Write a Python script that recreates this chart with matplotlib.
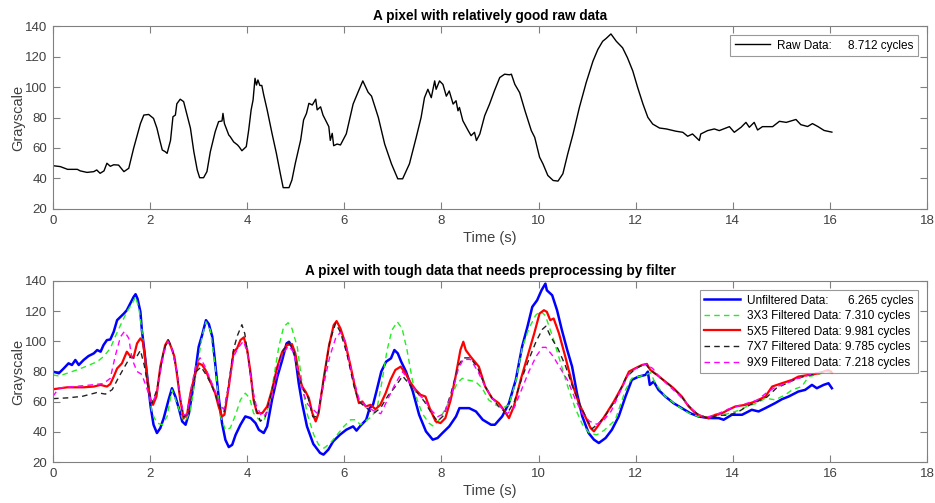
import matplotlib
matplotlib.use("Agg")
import matplotlib.pyplot as plt

plt.rcParams["font.family"] = ["Liberation Sans", "DejaVu Sans"]

# raw pixel trace (top panel)
raw_t = [0, 0.15, 0.3, 0.5, 0.56, 0.7, 0.84, 0.9, 0.97, 1.05, 1.11, 1.18, 1.25, 1.35, 1.46, 1.56,
         1.66, 1.8, 1.87, 1.97, 2.07, 2.14, 2.2, 2.25, 2.31, 2.35, 2.42, 2.47, 2.52, 2.55, 2.62,
         2.69, 2.76, 2.83, 2.9, 2.97, 3.02, 3.1, 3.17, 3.24, 3.34, 3.41, 3.48, 3.5, 3.53, 3.62,
         3.65, 3.72, 3.8, 3.83, 3.89, 3.98, 4.03, 4.08, 4.12, 4.16, 4.19, 4.22, 4.26, 4.3, 4.34,
         4.41, 4.51, 4.6, 4.68, 4.74, 4.86, 4.92, 4.99, 5.1, 5.16, 5.22, 5.27, 5.34, 5.41, 5.44,
         5.51, 5.56, 5.61, 5.68, 5.71, 5.75, 5.78, 5.85, 5.92, 6.04, 6.18, 6.28, 6.38, 6.49, 6.56,
         6.7, 6.83, 6.97, 7.1, 7.2, 7.34, 7.48, 7.58, 7.65, 7.72, 7.79, 7.86, 7.89, 7.96, 8.03,
         8.1, 8.16, 8.24, 8.3, 8.34, 8.37, 8.44, 8.55, 8.61, 8.68, 8.72, 8.79, 8.89, 8.99, 9.09,
         9.2, 9.3, 9.4, 9.44, 9.51, 9.61, 9.72, 9.85, 9.92, 10.02, 10.09, 10.19, 10.3, 10.4,
         10.5, 10.6, 10.71, 10.84, 10.98, 11.12, 11.22, 11.32, 11.39, 11.49, 11.6, 11.73, 11.83,
         11.94, 12.04, 12.15, 12.25, 12.35, 12.49, 12.63, 12.83, 12.97, 13.07, 13.17, 13.31,
         13.34, 13.48, 13.62, 13.72, 13.93, 14.03, 14.17, 14.27, 14.34, 14.44, 14.51, 14.61,
         14.82, 14.96, 15.1, 15.3, 15.4, 15.54, 15.64, 15.75, 15.88, 16.04]
raw_v = [48.4, 47.8, 46, 46, 45, 44, 44.5, 45.6, 43.4, 45, 50, 48, 49, 48.8, 44.5, 46.7,
         59.8, 76, 81.6, 82, 79.4, 73, 65, 58.7, 57.6, 56.5, 65, 80.5, 81.6, 89, 92,
         90.4, 81.6, 73, 57.6, 45.6, 40.5, 40.5, 44.5, 57.6, 70.7, 77.3, 77.7, 82.7, 76, 68.5,
         67.4, 64, 62, 60.9, 58.2, 60.9, 71.8, 85, 91.5, 105.7, 101.3, 104.6, 101, 101, 94.7,
         85, 69.6, 56.5, 43.4, 34, 34, 39, 50, 65.2, 78.4, 82.7, 89.3, 88.2, 92, 85,
         87, 81.6, 78.4, 74, 65, 69.6, 61.5, 62.6, 62, 69.3, 88.8, 96.5, 104, 96.5, 94,
         80, 62.6, 49.6, 39.8, 39.8, 49.6, 67, 80, 93, 98.5, 93, 104, 98.5, 104, 101.7,
         94, 97.4, 88.8, 91, 84.4, 86.6, 77.9, 71.4, 68.1, 70.3, 64.9, 69.2, 81.2, 88.8, 97.5,
         106.2, 108.4, 108, 108.4, 101.8, 96.3, 84.4, 71.4, 67, 54, 49.6, 42, 38.7, 38.3,
         43.1, 56.1, 69.2, 86.6, 102.9, 117, 124.6, 130, 131.8, 134.8, 130, 125.7, 119.2,
         110.5, 99.7, 88.8, 80.1, 75.7, 73.1, 72.5, 71, 70.3, 67.7, 69.2, 64.9,
         69.2, 71.4, 72.5, 71.4, 74, 70.3, 73.6, 76.8, 73.6, 76.8, 71.8, 74,
         74, 77.5, 76.8, 78.7, 75.3, 74.1, 76, 74.1, 71.5, 70.4]

# unfiltered pixel trace (bottom panel)
unf_t = [0, 0.12, 0.22, 0.32, 0.39, 0.46, 0.53, 0.63, 0.73, 0.84, 0.91, 0.98, 1.04, 1.11, 1.18,
         1.25, 1.32, 1.39, 1.46, 1.52, 1.59, 1.66, 1.7, 1.74, 1.8, 1.83, 1.88, 1.94, 2.01, 2.07,
         2.14, 2.21, 2.28, 2.38, 2.45, 2.52, 2.59, 2.66, 2.73, 2.8, 2.9, 3.0, 3.07, 3.15, 3.21,
         3.28, 3.34, 3.41, 3.48, 3.55, 3.62, 3.69, 3.76, 3.86, 3.96, 4.07, 4.17, 4.24, 4.34,
         4.41, 4.51, 4.62, 4.72, 4.81, 4.86, 4.92, 4.99, 5.06, 5.13, 5.23, 5.36, 5.5, 5.57,
         5.67, 5.77, 5.91, 6.04, 6.18, 6.25, 6.32, 6.45, 6.52, 6.59, 6.66, 6.76, 6.86, 6.96,
         7.03, 7.1, 7.17, 7.27, 7.41, 7.54, 7.68, 7.82, 7.92, 8.02, 8.16, 8.3, 8.37, 8.47, 8.57,
         8.71, 8.85, 9.02, 9.1, 9.25, 9.39, 9.53, 9.66, 9.77, 9.87, 9.97, 10.06, 10.14, 10.17,
         10.28, 10.38, 10.48, 10.59, 10.69, 10.79, 10.9, 11.03, 11.14, 11.24, 11.38, 11.51,
         11.65, 11.79, 11.92, 12.06, 12.2, 12.25, 12.29, 12.37, 12.47, 12.61, 12.78, 12.95,
         13.12, 13.29, 13.5, 13.71, 13.81, 13.98, 14.19, 14.39, 14.53, 14.67, 14.87, 15.01,
         15.15, 15.35, 15.49, 15.63, 15.73, 15.87, 15.97, 16.04]
unf_v = [79.9, 78.8, 82, 85.4, 84.3, 87.6, 84.3, 87.6, 90.2, 92, 94.2, 93.1, 97.5, 100.8, 101.2,
         106.3, 114, 116.2, 118.4, 120.6, 125, 129.4, 131.2, 128.3, 119.5, 107.4, 94.2, 76.6, 56.8, 44.7,
         39.2, 42.5, 49.1, 61.2, 68.9, 63.4, 55.7, 46.9, 44.7, 52.4, 72.2, 96.4, 104.1, 114, 111.4,
         103, 85.4, 63.4, 45.8, 34.7, 29.9, 31.4, 38, 44.7, 50.2, 49.1, 45.8, 41.3, 39.2,
         43.6, 61.2, 76.6, 87.6, 98.6, 99.7, 96.4, 89.8, 72.2, 59, 43.6, 32, 26, 24.9,
         28.2, 33.7, 38.1, 41.4, 43.6, 40.8, 43.6, 48, 55.7, 57.9, 66.7, 79.9, 86.5, 88.7,
         94.2, 92, 86.5, 79.9, 66.7, 51.3, 40.3, 34.8, 35.9, 39.2, 43.6, 50.2, 55.7, 55.7, 55.7,
         53.5, 48, 44.7, 44.7, 50.2, 59, 74.4, 96.4, 109.6, 122.8, 127.2, 133.8, 138.2, 133.8,
         130.5, 120.6, 107.4, 94.2, 83.2, 65.6, 50.2, 39.2, 34.8, 32.6, 35.9, 41.4,
         50.2, 63.4, 74.4, 76.6, 77.7, 79.9, 71.1, 73.3, 67.8, 63.4, 59, 55.7,
         52.4, 50.2, 49.1, 49.1, 48, 51.3, 51.3, 54.6, 53.5, 55.7, 59, 61.6,
         63.4, 66.7, 67.8, 71.1, 68.9, 71.1, 72.2, 68.9]

# 3x3 filtered
f3_t = [0, 0.12, 0.29, 0.49, 0.7, 0.91, 1.04, 1.18, 1.28, 1.39, 1.52, 1.63, 1.7, 1.77, 1.83,
        1.9, 1.97, 2.04, 2.14, 2.25, 2.35, 2.45, 2.55, 2.66, 2.73, 2.83, 2.97, 3.07, 3.15, 3.24,
        3.34, 3.45, 3.55, 3.65, 3.76, 3.86, 3.96, 4.05, 4.13, 4.24, 4.34, 4.44, 4.55, 4.65, 4.75,
        4.84, 4.92, 5.03, 5.13, 5.23, 5.37, 5.47, 5.58, 5.71, 5.85, 5.99, 6.13, 6.23, 6.33, 6.47,
        6.57, 6.68, 6.78, 6.88, 6.98, 7.09, 7.19, 7.29, 7.4, 7.5, 7.6, 7.74, 7.84, 7.95, 8.09,
        8.22, 8.32, 8.43, 8.53, 8.7, 8.84, 8.97, 9.11, 9.25, 9.39, 9.53, 9.66, 9.8, 9.94, 10.04,
        10.14, 10.3, 10.45, 10.6, 10.75, 10.9, 11.05, 11.2, 11.35, 11.58, 11.79, 11.92, 12.2,
        12.31, 12.4, 12.61, 12.88, 13.09, 13.29, 13.5, 13.7, 13.9, 14.1, 14.3, 14.5, 14.67, 14.87,
        15.08, 15.22, 15.42, 15.56, 15.75, 15.9, 16.04]
f3_v = [77.7, 77, 78.8, 81, 83.6, 86.5, 89.8, 95.3, 103, 110.7, 119.5, 125, 129.4, 121.7, 107.4,
        87.6, 67.8, 52.4, 45.8, 44.7, 50.2, 67.8, 59, 49.1, 46.9, 54.6, 83.2, 103, 112.9, 107.4,
        83.2, 50.2, 41.3, 42.5, 51.3, 61.2, 65.6, 62.3, 52.4, 48, 46.9, 56.8, 76.6, 96.4, 109.6,
        112.3, 108.5, 96.4, 72.2, 52.4, 38, 31.4, 29.2, 32.5, 38, 43.6, 48, 48, 44.7, 48,
        50.2, 56.8, 74.4, 94.2, 107.4, 112.9, 108.5, 94.2, 74.4, 61.2, 52.4, 45.8, 43.6, 48, 55.7,
        64.5, 72.2, 75.5, 74.4, 73.3, 68.9, 61.2, 57.9, 55.7, 57.9, 73.3, 95.3, 108.5, 117.3, 120,
        117, 102, 86, 70, 56, 45, 39, 38, 41, 47.9, 67.8, 75.5, 77.7,
        79.2, 72.2, 63.4, 56.8, 52.4, 50.2, 50, 51, 52, 54, 57, 59, 62.3, 61.2,
        64.5, 67.8, 70, 76.6, 78, 79.5, 80]

# 5x5 filtered
f5_t = [0, 0.29, 0.63, 0.84, 0.98, 1.11, 1.18, 1.25, 1.32, 1.42, 1.52, 1.59, 1.66, 1.73, 1.8,
        1.85, 1.9, 1.95, 2.01, 2.06, 2.13, 2.21, 2.31, 2.37, 2.43, 2.5, 2.55, 2.62, 2.69, 2.76,
        2.83, 2.93, 3.0, 3.07, 3.14, 3.24, 3.34, 3.41, 3.48, 3.53, 3.62, 3.72, 3.79, 3.86, 3.93,
        4.0, 4.07, 4.13, 4.2, 4.31, 4.41, 4.51, 4.62, 4.72, 4.82, 4.92, 4.99, 5.06, 5.13, 5.2,
        5.27, 5.34, 5.41, 5.47, 5.58, 5.68, 5.78, 5.84, 5.92, 6.02, 6.13, 6.23, 6.3, 6.37, 6.44,
        6.54, 6.64, 6.74, 6.85, 6.95, 7.05, 7.16, 7.26, 7.37, 7.47, 7.57, 7.67, 7.77, 7.88, 7.98,
        8.08, 8.19, 8.29, 8.39, 8.45, 8.5, 8.6, 8.77, 8.9, 9.04, 9.18, 9.28, 9.39, 9.49, 9.63,
        9.77, 9.91, 10.02, 10.11, 10.17, 10.24, 10.31, 10.42, 10.55, 10.69, 10.83, 10.96, 11.07,
        11.14, 11.24, 11.38, 11.55, 11.72, 11.86, 11.99, 12.13, 12.23, 12.3, 12.44, 12.61, 12.78,
        12.95, 13.09, 13.23, 13.36, 13.5, 13.64, 13.78, 13.91, 14.05, 14.26, 14.46, 14.67, 14.81,
        15.01, 15.22, 15.35, 15.56, 15.77, 15.97, 16.04]
f5_v = [68.2, 69.5, 69.5, 70, 71.1, 70, 71.7, 76.6, 82, 85.4, 93.1, 90.2, 89.4, 98.6, 101.9,
        99.7, 87.6, 72.2, 61.2, 57.9, 63.4, 83.2, 97.5, 100.8, 96.4, 89.8, 78.8, 61.2, 49.1, 51.3,
        65.6, 78.8, 85.4, 84.3, 81, 73.3, 65.6, 56.8, 50.2, 51.3, 70, 93.1, 95.3, 100.8, 102.6,
        94.2, 78.8, 61.2, 52.4, 52.4, 56.8, 67.8, 83.2, 93.1, 97.5, 98.2, 92, 78.8, 70, 66.7,
        62.3, 52.4, 46.9, 52.4, 76.6, 96.4, 110.7, 113.4, 108.5, 98.6, 83.2, 67.8, 59, 60.1, 56.8,
        57.9, 55, 57.9, 65.6, 74.4, 81, 83.2, 78.8, 72.2, 67.8, 64.5, 63.4, 54.6, 46.9, 45.8,
        49.1, 61.2, 76.6, 94.2, 99.7, 94.2, 89.8, 83.2, 70, 62.3, 59, 54.6, 49.1, 56.8, 74.4,
        89.8, 105.2, 118.4, 120.6, 119.5, 114, 115.1, 105.2, 89.8, 72.2, 59, 50.2, 42.5,
        40.3, 44.7, 51.3, 60.1, 70, 79.9, 82.1, 84.3, 85, 81, 77.7, 73.3, 68.9,
        63.4, 56.8, 52.4, 50.2, 49.1, 51.3, 52.4, 54.6, 56.8, 57.9, 60.1, 63.4, 70,
        72.2, 74.4, 76.6, 77.7, 78.8, 81, 79.2]

# 7x7 filtered
f7_t = [0, 0.3, 0.6, 0.9, 1.08, 1.22, 1.35, 1.49, 1.59, 1.7, 1.8, 1.88, 1.97, 2.04, 2.14, 2.28,
        2.37, 2.45, 2.55, 2.62, 2.69, 2.76, 2.85, 2.95, 3.05, 3.15, 3.25, 3.35, 3.45, 3.52, 3.62,
        3.72, 3.8, 3.89, 3.95, 4.05, 4.15, 4.27, 4.37, 4.5, 4.62, 4.72, 4.85, 4.95, 5.05, 5.15,
        5.25, 5.35, 5.45, 5.58, 5.7, 5.82, 5.92, 6.05, 6.2, 6.3, 6.45, 6.6, 6.75, 6.9, 7.05, 7.2,
        7.35, 7.5, 7.65, 7.8, 7.92, 8.05, 8.2, 8.35, 8.45, 8.6, 8.75, 8.9, 9.05, 9.2, 9.35, 9.5,
        9.65, 9.8, 9.95, 10.08, 10.15, 10.25, 10.4, 10.55, 10.7, 10.85, 11.0, 11.1, 11.25, 11.4,
        11.6, 11.8, 12.0, 12.2, 12.3, 12.5, 12.7, 12.9, 13.1, 13.3, 13.5, 13.7, 13.9, 14.1, 14.3,
        14.5, 14.7, 14.9, 15.1, 15.3, 15.5, 15.7, 15.9, 16.04]
f7_v = [62, 62.5, 63.5, 66, 65, 68, 76, 84, 89.5, 88.5, 94, 84, 68, 59, 68, 94,
        101, 96, 80, 62, 50, 52, 68, 80, 83, 78, 72, 64, 55, 53, 72,
        95, 104, 111, 105, 82, 58, 47, 50, 66, 82, 93, 99, 95, 78, 68,
        63, 50, 50, 76, 100, 112, 106, 92, 70, 60, 56, 52, 56, 64, 70, 77,
        71, 66, 60, 52, 47, 51, 66, 84, 89, 89, 82, 70, 62, 56, 52, 60,
        75, 88, 100, 108, 110, 103, 95, 84, 70, 58, 48, 42, 46, 52,
        62, 76, 82, 85, 81, 76, 71, 65, 57, 51, 49, 51, 51, 53, 57,
        60, 63, 69, 72, 75, 77, 78.5, 80, 80]

# 9x9 filtered
f9_t = [0, 0.12, 0.43, 0.77, 1.04, 1.18, 1.28, 1.39, 1.47, 1.56, 1.63, 1.73, 1.83, 1.94, 2.04,
        2.14, 2.28, 2.37, 2.45, 2.55, 2.62, 2.69, 2.76, 2.85, 2.95, 3.03, 3.12, 3.25, 3.35, 3.45,
        3.52, 3.62, 3.72, 3.82, 3.92, 4.0, 4.1, 4.18, 4.3, 4.4, 4.5, 4.62, 4.72, 4.85, 4.95, 5.05,
        5.15, 5.25, 5.35, 5.45, 5.58, 5.7, 5.82, 5.92, 6.02, 6.15, 6.3, 6.45, 6.6, 6.75, 6.9,
        7.05, 7.2, 7.35, 7.5, 7.65, 7.8, 7.92, 8.05, 8.2, 8.35, 8.45, 8.6, 8.75, 8.9, 9.05, 9.2,
        9.35, 9.5, 9.65, 9.8, 9.95, 10.08, 10.15, 10.3, 10.45, 10.6, 10.75, 10.9, 11.05, 11.2,
        11.35, 11.5, 11.7, 11.85, 12.0, 12.2, 12.35, 12.5, 12.7, 12.9, 13.1, 13.3, 13.5, 13.7,
        13.9, 14.1, 14.3, 14.5, 14.7, 14.9, 15.1, 15.3, 15.5, 15.7, 15.9, 16.04]
f9_v = [63.5, 69, 70, 71, 72, 75.5, 90, 103, 106.5, 102, 88, 80, 78, 68, 59,
        66, 92, 100, 95, 80, 63, 51, 52, 70, 85, 89, 84, 74, 66, 57,
        55, 70, 90, 96, 100, 93, 70, 58, 50, 52, 62, 80, 91, 97, 93, 80,
        66, 58, 55, 52, 72, 90, 102, 106, 100, 80, 62, 57, 54, 52, 62,
        72, 80, 72, 66, 61, 54, 50, 52, 64, 82, 88, 88, 80, 70, 62, 57,
        52, 56, 68, 80, 90, 96, 96, 90, 82, 74, 62, 52, 47, 45,
        48, 54, 68, 78, 82, 85, 82, 76, 70, 64, 57, 51, 50, 52,
        55, 57, 59, 61, 66, 70, 72, 75, 77, 79, 80, 80]

raw_label = "Raw Data:     8.712 cycles"
filt_labels = ["Unfiltered Data:      6.265 cycles",
               "3X3 Filtered Data: 7.310 cycles",
               "5X5 Filtered Data: 9.981 cycles",
               "7X7 Filtered Data: 9.785 cycles",
               "9X9 Filtered Data: 7.218 cycles"]

axis_grey = "#808080"
label_grey = "#404040"
dash = (0, (4, 3))


def style_axes(ax, title):
    ax.set_xlim(0, 18)
    ax.set_ylim(20, 140)
    ax.set_xticks(range(0, 19, 2))
    ax.set_yticks(range(20, 141, 20))
    ax.tick_params(direction="in", length=5, width=0.8, top=True, right=True,
                   colors=axis_grey, labelcolor=label_grey, labelsize=9.5, pad=4)
    for s in ax.spines.values():
        s.set_color(axis_grey)
        s.set_linewidth(0.8)
    ax.set_title(title, fontsize=9.8, fontweight="bold", pad=4)
    ax.set_xlabel("Time (s)", fontsize=10.5, color=label_grey, labelpad=3)
    ax.set_ylabel("Grayscale", fontsize=10.5, color=label_grey, labelpad=0)


def add_legend(ax, **kw):
    leg = ax.legend(loc="upper right", fontsize=8.5, frameon=True, fancybox=False,
                    edgecolor=axis_grey, handlelength=3.0, borderaxespad=0.8,
                    borderpad=0.35, handletextpad=0.6, **kw)
    leg.get_frame().set_linewidth(0.8)
    return leg


fig = plt.figure(figsize=(9.35, 5.03), dpi=100)
ax1 = fig.add_axes([0.0567, 0.5845, 0.9348, 0.3638])
ax2 = fig.add_axes([0.0567, 0.0815, 0.9348, 0.36])

ax1.plot(raw_t, raw_v, color="black", lw=1.0, label=raw_label)
style_axes(ax1, "A pixel with relatively good raw data")
add_legend(ax1)

ax2.plot(unf_t, unf_v, color="blue", lw=1.8, label=filt_labels[0])
ax2.plot(f3_t, f3_v, color="#22ee22", lw=1.0, ls=dash, label=filt_labels[1])
ax2.plot(f5_t, f5_v, color="red", lw=1.6, label=filt_labels[2])
ax2.plot(f7_t, f7_v, color="#222222", lw=1.0, ls=dash, label=filt_labels[3])
ax2.plot(f9_t, f9_v, color="magenta", lw=1.0, ls=dash, label=filt_labels[4])
style_axes(ax2, "A pixel with tough data that needs preprocessing by filter")
add_legend(ax2, labelspacing=0.3)

fig.savefig("out.png", dpi=100)
